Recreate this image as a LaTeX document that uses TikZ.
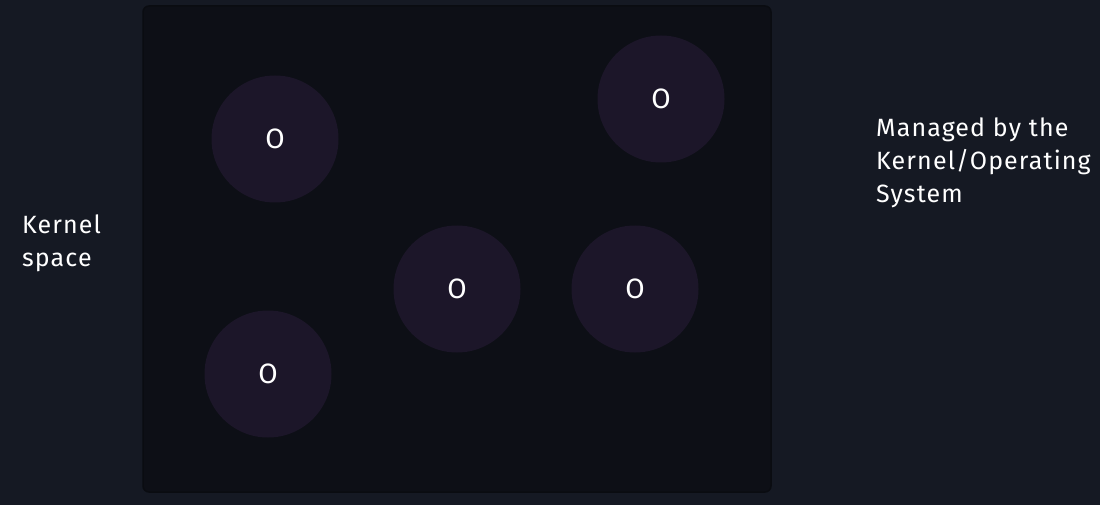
\documentclass[tikz,border=0pt]{standalone}
\usepackage{fontspec}
\setmainfont{Fira Sans}[LetterSpace=4.5]
\definecolor{bg}{HTML}{151923}
\definecolor{boxfill}{HTML}{0D0F16}
\definecolor{boxline}{HTML}{0A0C11}
\definecolor{circfill}{HTML}{1C1629}
\tikzset{
  proc/.style={circle, fill=circfill, minimum size=127pt, inner sep=0pt, text=white, font=\fontsize{28}{30}\selectfont},
  lbl/.style={text=white, align=left, anchor=north west, inner sep=0pt, font=\fontsize{25}{33}\selectfont},
}
\begin{document}
\begin{tikzpicture}[x=1pt,y=-1pt]
\fill[bg] (0,0) rectangle (1100,505);
\useasboundingbox (0,0) rectangle (1100,505);
\node[draw=boxline, fill=boxfill, rounded corners=6pt, line width=1.5pt, minimum width=628pt, minimum height=486pt, inner sep=0pt] (space) at (457,249) {};
\node[proc] (p1) at (275,139) {O};
\node[proc] (p2) at (661,99) {O};
\node[proc] (p3) at (457,289) {O};
\node[proc] (p4) at (635,289) {O};
\node[proc] (p5) at (268,374) {O};
\node[lbl] (left) at (22,215) {Kernel\\space};
\node[lbl] (right) at (876,118) {Managed by the\\Kernel/Operating\\System};
\end{tikzpicture}
\end{document}
